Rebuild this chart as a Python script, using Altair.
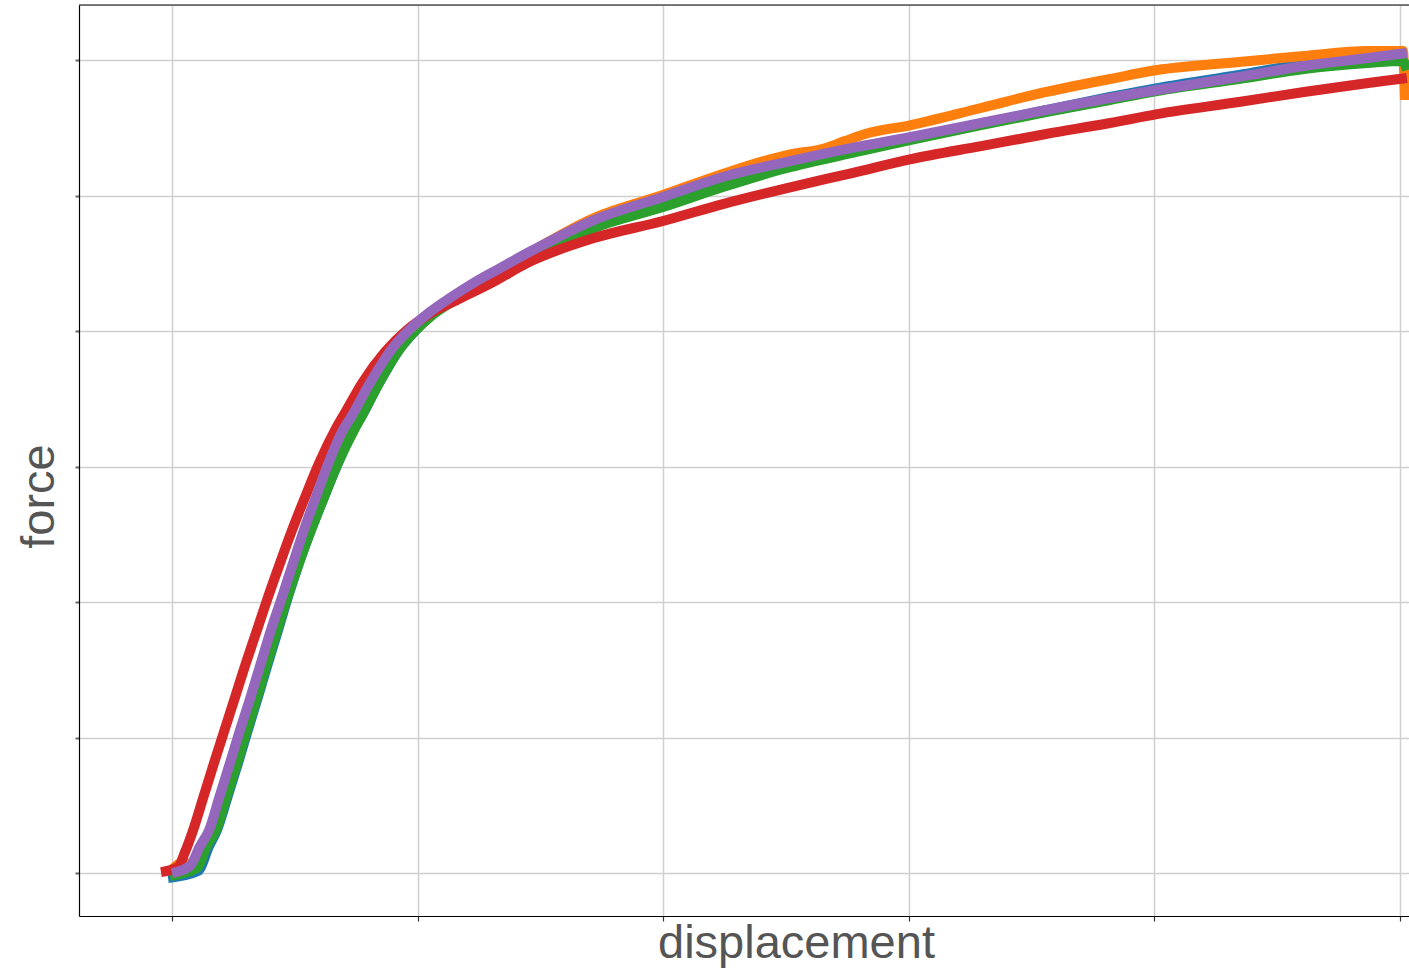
import altair as alt
import pandas as pd

# ---- data (displacement, force) ----
blue_x = [-0.016, 0.106, 0.151, 0.183, 0.226, 0.269, 0.309, 0.350, 0.391, 0.432, 0.472, 0.517, 0.566,
          0.619, 0.676, 0.737, 0.770, 0.843, 0.924, 0.993, 1.050, 1.152, 1.283, 1.454, 1.718, 1.999,
          2.243, 2.504, 2.769, 3.009, 3.294, 3.559, 3.819, 4.011, 4.344, 4.609, 4.870, 5.028]
blue_y = [-0.037, 0.015, 0.199, 0.317, 0.561, 0.812, 1.055, 1.299, 1.550, 1.793, 2.037, 2.288, 2.531,
          2.775, 3.026, 3.269, 3.365, 3.616, 3.860, 4.007, 4.111, 4.229, 4.354, 4.553, 4.782, 4.945,
          5.092, 5.225, 5.328, 5.424, 5.528, 5.631, 5.727, 5.793, 5.890, 5.970, 6.015, 6.030]

orange_x = [-0.008, 0.041, 0.086, 0.114, 0.138, 0.171, 0.214, 0.257, 0.297, 0.338, 0.379, 0.419, 0.462,
            0.509, 0.554, 0.603, 0.660, 0.721, 0.753, 0.827, 0.912, 0.981, 1.050, 1.140, 1.254, 1.454,
            1.718, 1.999, 2.243, 2.504, 2.663, 2.740, 2.822, 3.009, 3.294, 3.559, 3.819, 4.011, 4.344,
            4.609, 4.870, 5.012, 5.020]
orange_y = [0.007, 0.074, 0.066, 0.096, 0.199, 0.317, 0.561, 0.812, 1.055, 1.299, 1.550, 1.793, 2.037,
            2.288, 2.531, 2.775, 3.026, 3.269, 3.365, 3.616, 3.860, 4.007, 4.125, 4.229, 4.354, 4.576,
            4.834, 5.004, 5.159, 5.299, 5.351, 5.402, 5.454, 5.520, 5.646, 5.764, 5.860, 5.926, 5.985,
            6.030, 6.066, 6.066, 5.705]

green_x = [-0.008, 0.102, 0.143, 0.179, 0.222, 0.265, 0.305, 0.346, 0.387, 0.428, 0.470, 0.517, 0.566,
           0.619, 0.676, 0.741, 0.770, 0.843, 0.924, 0.993, 1.050, 1.152, 1.283, 1.454, 1.718, 1.999,
           2.243, 2.504, 2.769, 3.009, 3.294, 3.559, 3.819, 4.011, 4.344, 4.609, 4.870, 5.012, 5.028]
green_y = [-0.022, 0.037, 0.207, 0.317, 0.561, 0.812, 1.055, 1.299, 1.550, 1.793, 2.037, 2.288, 2.531,
           2.775, 3.026, 3.269, 3.365, 3.616, 3.860, 4.007, 4.103, 4.229, 4.354, 4.531, 4.760, 4.915,
           5.063, 5.203, 5.314, 5.410, 5.520, 5.616, 5.705, 5.771, 5.860, 5.934, 5.978, 5.993, 5.926]

red_x = [-0.045, 0.024, 0.053, 0.086, 0.128, 0.171, 0.214, 0.257, 0.301, 0.346, 0.391, 0.440, 0.489,
         0.542, 0.599, 0.664, 0.704, 0.774, 0.867, 0.957, 1.042, 1.160, 1.307, 1.454, 1.718, 1.999,
         2.243, 2.504, 2.769, 3.009, 3.294, 3.559, 3.819, 4.011, 4.344, 4.609, 4.870, 5.028]
red_y = [0.007, 0.044, 0.155, 0.317, 0.561, 0.812, 1.055, 1.299, 1.550, 1.793, 2.037, 2.288, 2.531,
         2.775, 3.026, 3.269, 3.395, 3.616, 3.845, 4.007, 4.118, 4.229, 4.362, 4.509, 4.686, 4.812,
         4.937, 5.055, 5.166, 5.269, 5.365, 5.454, 5.535, 5.601, 5.690, 5.764, 5.830, 5.867]

purple_x = [0.000, 0.073, 0.114, 0.151, 0.193, 0.236, 0.277, 0.320, 0.362, 0.403, 0.448, 0.493, 0.537,
            0.586, 0.637, 0.696, 0.729, 0.806, 0.892, 0.965, 1.050, 1.132, 1.234, 1.336, 1.470, 1.718,
            1.999, 2.243, 2.504, 2.769, 3.009, 3.294, 3.559, 3.819, 4.011, 4.344, 4.609, 4.870, 5.028]
purple_y = [0.000, 0.052, 0.199, 0.317, 0.561, 0.812, 1.055, 1.299, 1.550, 1.793, 2.037, 2.288, 2.531,
            2.775, 3.026, 3.269, 3.365, 3.616, 3.860, 4.007, 4.140, 4.244, 4.362, 4.465, 4.598, 4.819,
            4.989, 5.137, 5.248, 5.351, 5.432, 5.535, 5.631, 5.720, 5.779, 5.875, 5.956, 6.015, 6.052]

x_ticks = [0, 1, 2, 3, 4, 5]
y_ticks = [0, 1, 2, 3, 4, 5, 6]

series = [
    ("blue", blue_x, blue_y, "#1f77b4"),
    ("orange", orange_x, orange_y, "#ff7f0e"),
    ("green", green_x, green_y, "#2ca02c"),
    ("red", red_x, red_y, "#d62728"),
    ("purple", purple_x, purple_y, "#9467bd"),
]

W, H = 1330, 911
FONT = "Liberation Sans"

x_scale = alt.Scale(domain=[-0.3787, 5.0367], nice=False, zero=False)
y_scale = alt.Scale(domain=[-0.317, 6.406], nice=False, zero=False)

x_axis = alt.Axis(
    values=x_ticks, labels=False, title="displacement", grid=True,
    gridColor="#cfcfcf", gridWidth=1.5,
    domainColor="#000000", domainWidth=1.2,
    tickColor="#333333", tickSize=5, tickWidth=1.2,
    titleFont=FONT, titleFontSize=47, titleFontWeight="normal", titleColor="#555555",
    titleX=717, titleY=41, titleBaseline="alphabetic", titleAlign="center",
)
y_axis = alt.Axis(
    values=y_ticks, labels=False, title="force", grid=True,
    gridColor="#cfcfcf", gridWidth=1.5,
    domainColor="#000000", domainWidth=1.2,
    tickColor="#666666", tickSize=4, tickWidth=2,
    titleFont=FONT, titleFontSize=47, titleFontWeight="normal", titleColor="#555555",
    titleAngle=270, titleX=-26, titleY=491, titleBaseline="alphabetic", titleAlign="center",
)

layers = []
for name, xs, ys, col in series:
    df = pd.DataFrame({"x": xs, "y": ys, "i": list(range(len(xs)))})
    layers.append(
        alt.Chart(df).mark_line(color=col, strokeWidth=10, clip=True, strokeJoin="round",
                                interpolate="monotone").encode(
            x=alt.X("x:Q", scale=x_scale, axis=x_axis),
            y=alt.Y("y:Q", scale=y_scale, axis=y_axis),
            order=alt.Order("i:Q"),
        )
    )

top_frame = alt.Chart(pd.DataFrame({"a": [0]})).mark_rule(color="#000000", strokeWidth=1.2).encode(
    x=alt.value(0), x2=alt.value(W), y=alt.value(0)
)

chart = alt.layer(*layers, top_frame).properties(
    width=W, height=H,
    autosize=alt.AutoSizeParams(type="none"),
    padding={"left": 79, "top": 5, "right": 0, "bottom": 52},
).configure_view(stroke=None).configure(background="white")

chart.save("out.html", embed_options={"renderer": "svg", "actions": False})
